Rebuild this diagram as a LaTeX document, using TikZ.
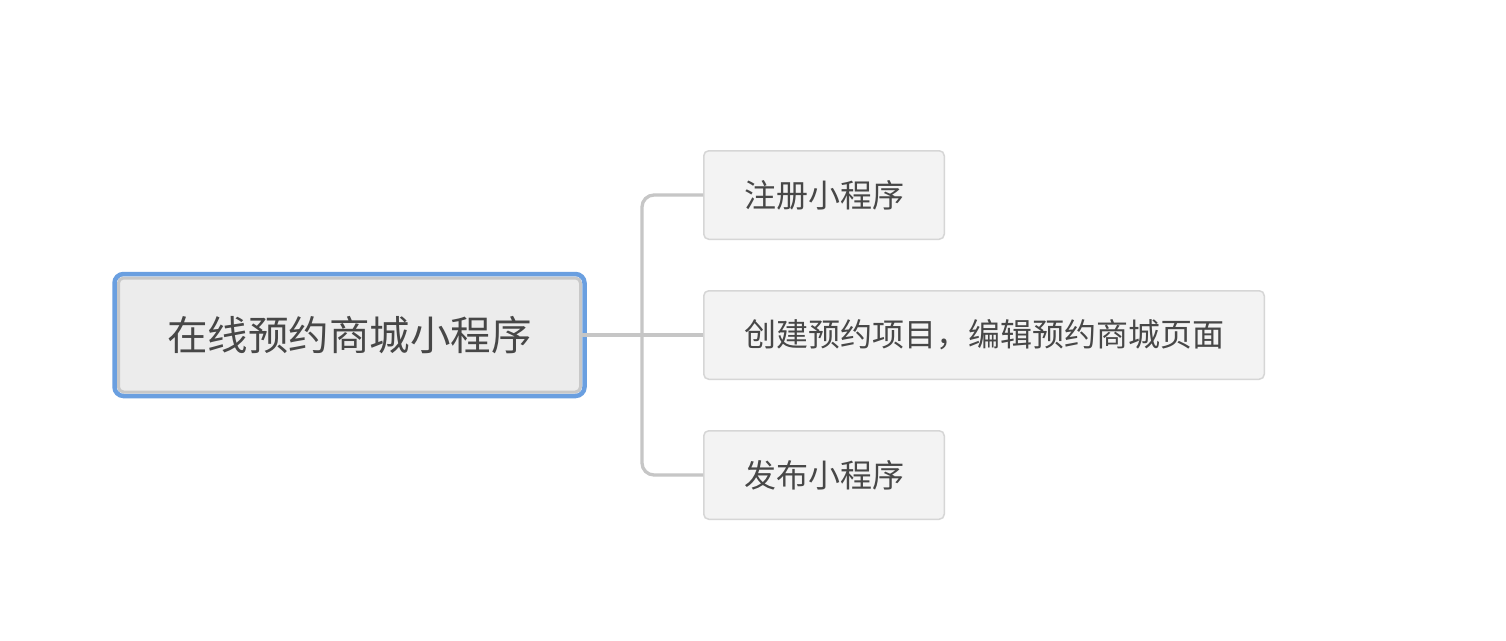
\documentclass[tikz,border=0pt]{standalone}
\usepackage{fontspec}
\setmainfont{Noto Sans CJK SC}
\usetikzlibrary{calc}
\definecolor{txt}{HTML}{474747}
\definecolor{rootblue}{HTML}{6A9FE0}
\definecolor{rootgray}{HTML}{C8C8C8}
\definecolor{rootfill}{HTML}{ECECEC}
\definecolor{childfill}{HTML}{F3F3F3}
\definecolor{childline}{HTML}{D6D6D6}
\definecolor{conncol}{HTML}{C6C6C6}
\tikzset{
  rootbox/.style={draw=rootgray, line width=3pt, fill=rootfill, rounded corners=5pt,
    minimum width=462pt, minimum height=114pt, inner sep=0pt, text=txt,
    font=\fontsize{40.5}{40.5}\selectfont},
  childbox/.style={draw=childline, line width=1.5pt, fill=childfill, rounded corners=5pt,
    minimum height=88.5pt, inner sep=0pt, text=txt,
    font=\fontsize{32}{32}\selectfont},
  conn/.style={draw=conncol, line width=3.3pt},
}
\begin{document}
\begin{tikzpicture}[x=1pt,y=-1pt]
\useasboundingbox[fill=white] (0,0) rectangle (1506,640);
\node[rootbox] (root) at (349.5,335) {在线预约商城小程序};
\draw[rootblue, line width=4.5pt, rounded corners=9pt]
  ($(root.south west)+(-2.5,2.5)$) rectangle ($(root.north east)+(2.5,-2.5)$);
\node[childbox, minimum width=240.5pt] (c1) at (824,195) {注册小程序};
\node[childbox, minimum width=560.5pt] (c2) at (984,335) {创建预约项目，编辑预约商城页面};
\node[childbox, minimum width=240.5pt] (c3) at (824,475) {发布小程序};
\coordinate (j) at (642,335);
\draw[conn] (root.east) -- (c2.west);
\draw[conn, rounded corners=12pt] (j) |- (c1.west);
\draw[conn, rounded corners=12pt] (j) |- (c3.west);
\end{tikzpicture}
\end{document}
